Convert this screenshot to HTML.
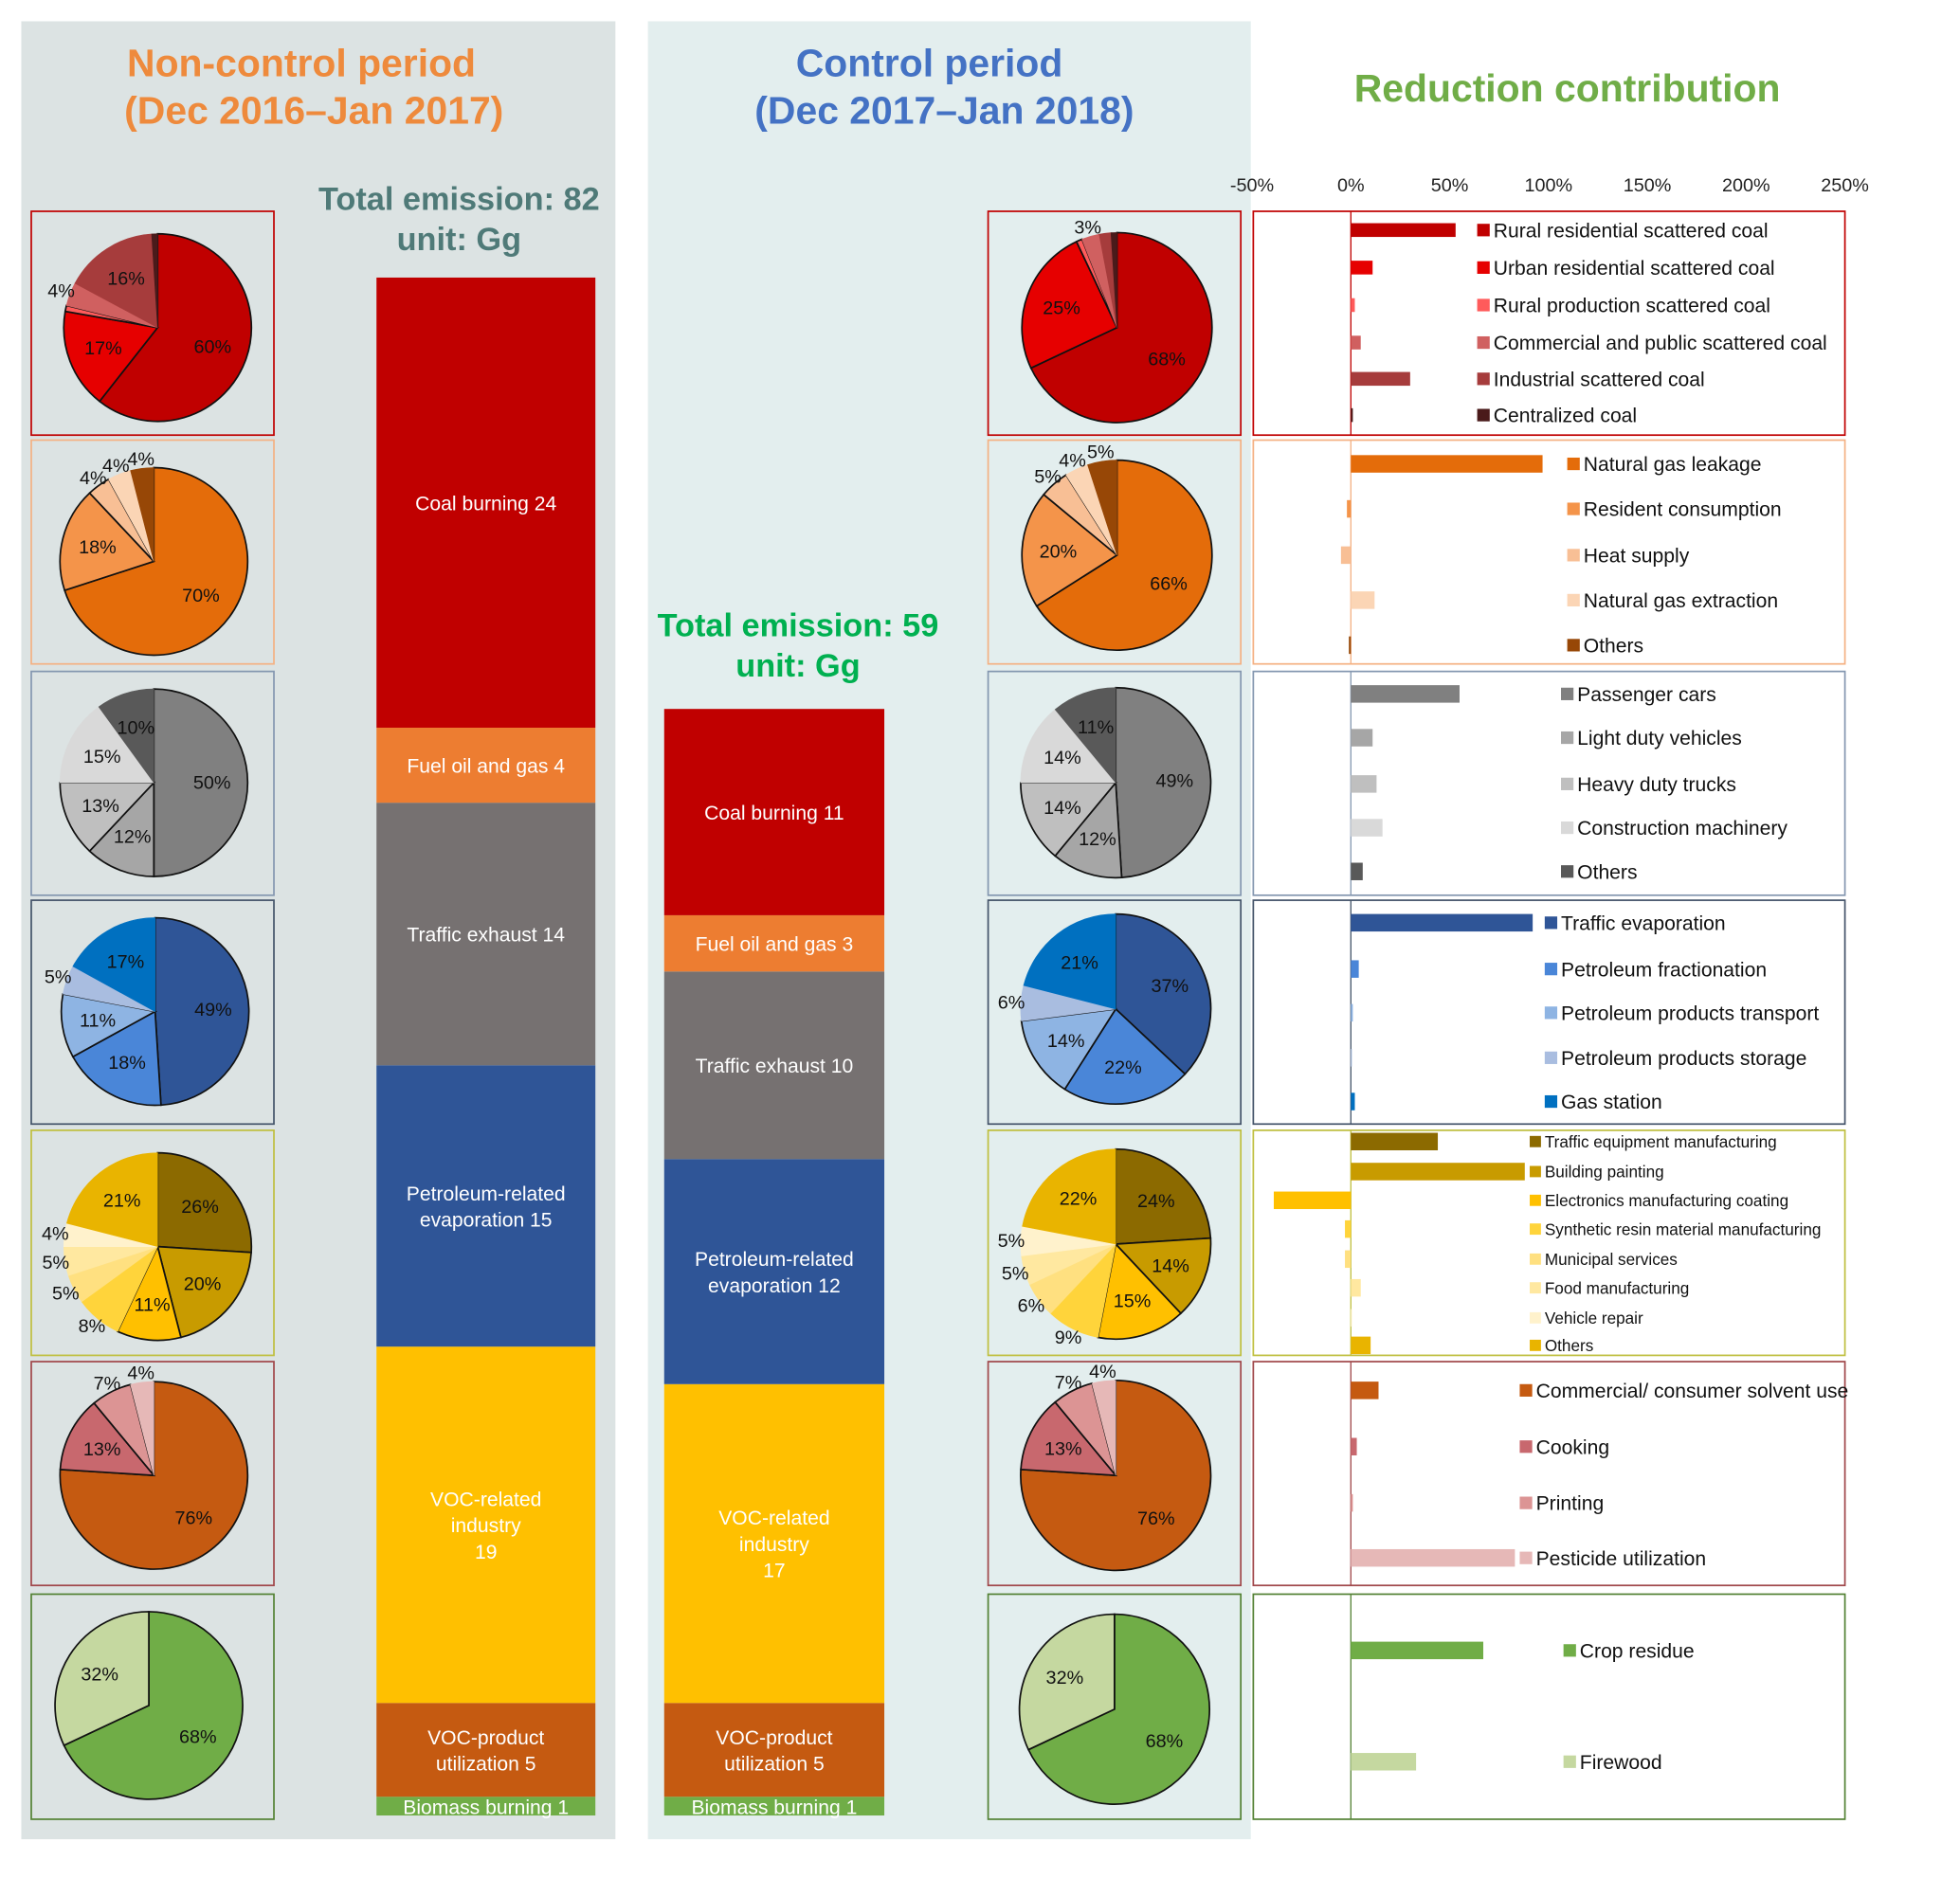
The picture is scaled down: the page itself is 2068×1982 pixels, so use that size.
<!DOCTYPE html>
<html><head><meta charset="utf-8">
<style>
html,body{margin:0;padding:0;background:#fff;width:2068px;height:1982px;overflow:hidden}
svg{display:block}
text{font-family:"Liberation Sans","DejaVu Sans",sans-serif}
</style></head>
<body>
<svg id="chart" width="2068" height="1982" viewBox="0 0 1567 1502" preserveAspectRatio="none" xmlns="http://www.w3.org/2000/svg">
<rect x="17" y="17" width="475" height="1454" fill="#dce3e3"/>
<rect x="518" y="17" width="482" height="1454" fill="#e3eeee"/>
<text x="241" y="61" text-anchor="middle" font-size="31" font-weight="bold" fill="#ee8a3c">Non-control period</text>
<text x="251" y="99" text-anchor="middle" font-size="31" font-weight="bold" fill="#ee8a3c">(Dec  2016–Jan  2017)</text>
<text x="743" y="61" text-anchor="middle" font-size="31" font-weight="bold" fill="#4472c4">Control period</text>
<text x="755" y="99" text-anchor="middle" font-size="31" font-weight="bold" fill="#4472c4">(Dec  2017–Jan  2018)</text>
<text x="1253" y="81" text-anchor="middle" font-size="31" font-weight="bold" fill="#70ad47">Reduction  contribution</text>
<text x="367" y="168" text-anchor="middle" font-size="26" font-weight="bold" fill="#4f7a78">Total emission: 82</text>
<text x="367" y="200" text-anchor="middle" font-size="26" font-weight="bold" fill="#4f7a78">unit: Gg</text>
<text x="638" y="509" text-anchor="middle" font-size="26" font-weight="bold" fill="#00b050">Total emission: 59</text>
<text x="638" y="541" text-anchor="middle" font-size="26" font-weight="bold" fill="#00b050">unit: Gg</text>
<g id="g"></g>
</svg>
<script>
const NS="http://www.w3.org/2000/svg";
const root=document.getElementById('g');
function mk(tag,attrs,parent){const e=document.createElementNS(NS,tag);for(const k in attrs)e.setAttribute(k,attrs[k]);(parent||root).appendChild(e);return e;}

// ---- stacked bar data ----
const stackCats=["Coal burning","Fuel oil and gas","Traffic exhaust","Petroleum-related evaporation","VOC-related industry","VOC-product utilization","Biomass burning"];
const stackNonControl=[24,4,14,15,19,5,1];
const stackControl=[11,3,10,12,17,5,1];
const stackColors=["#c00000","#ed7d31","#767171","#2f5597","#ffc000","#c55a11","#70ad47"];

// ---- pie data (non-control / control) ----
const pieCoalA=[60,17,1,4,16,1], pieCoalB=[68,25,1,3,2,1];
const pieFuelA=[70,18,4,4,4], pieFuelB=[66,20,5,4,5];
const pieTrafficA=[50,12,13,15,10], pieTrafficB=[49,12,14,14,11];
const piePetroA=[49,18,11,5,17], piePetroB=[37,22,14,6,21];
const pieVocIndA=[26,20,11,8,5,5,4,21], pieVocIndB=[24,14,15,9,6,5,5,22];
const pieVocProdA=[76,13,7,4], pieVocProdB=[76,13,7,4];
const pieBioA=[68,32], pieBioB=[68,32];

// ---- reduction contribution (%) ----
const catCoal=["Rural residential scattered coal","Urban residential scattered coal","Rural production scattered coal","Commercial and public scattered coal","Industrial scattered coal","Centralized coal"];
const redCoal=[53,11,2,5,30,1];
const catFuel=["Natural gas leakage","Resident consumption","Heat supply","Natural gas extraction","Others"];
const redFuel=[97,-2,-5,12,-1];
const catTraffic=["Passenger cars","Light duty vehicles","Heavy duty trucks","Construction machinery","Others"];
const redTraffic=[55,11,13,16,6];
const catPetro=["Traffic evaporation","Petroleum fractionation","Petroleum products transport","Petroleum products storage","Gas station"];
const redPetro=[92,4,1,0,2];
const catVocInd=["Traffic equipment manufacturing","Building painting","Electronics manufacturing coating","Synthetic resin material manufacturing","Municipal services","Food manufacturing","Vehicle repair","Others"];
const redVocInd=[44,88,-39,-3,-3,5,0,10];
const catVocProd=["Commercial/ consumer solvent use","Cooking","Printing","Pesticide utilization"];
const redVocProd=[14,3,1,83];
const catBio=["Crop residue","Firewood"];
const redBio=[67,33];
const axisTicks=[-50,0,50,100,150,200,250];

const groups=[
 {name:"coal",A:pieCoalA,B:pieCoalB,cats:catCoal,red:redCoal,border:"#c00000",y0:169,y1:348,cols:["#c00000","#e60000","#ff5b5b","#d06060","#a63c3c","#4a1a1a"],cA:[126,262],cB:[893,262],legX:1181,ys:[184,214,244,274,303,332],bh:11,fs:16},
 {name:"fuel",A:pieFuelA,B:pieFuelB,cats:catFuel,red:redFuel,border:"#f4b183",y0:352,y1:531,cols:["#e46c0a","#f4944a","#f8bf95","#fbd5b5","#974706"],cA:[123,449],cB:[893,444],legX:1253,ys:[371,407,444,480,516],bh:14,fs:16},
 {name:"traffic",A:pieTrafficA,B:pieTrafficB,cats:catTraffic,red:redTraffic,border:"#8497b0",y0:537,y1:716,cols:["#808080","#a6a6a6","#bfbfbf","#d9d9d9","#595959"],cA:[123,626],cB:[892,626],legX:1248,ys:[555,590,627,662,697],bh:14,fs:16},
 {name:"petroleum",A:piePetroA,B:piePetroB,cats:catPetro,red:redPetro,border:"#44546a",y0:720,y1:899,cols:["#2f5597","#4a86d8","#8eb4e3","#a9bde0","#0070c0"],cA:[124,809],cB:[892,807],legX:1235,ys:[738,775,810,846,881],bh:14,fs:16},
 {name:"voc-industry",A:pieVocIndA,B:pieVocIndB,cats:catVocInd,red:redVocInd,border:"#bfbf3f",y0:904,y1:1084,cols:["#8c6a00","#c89b00","#ffc000","#ffd43b","#ffe080","#ffe8a0","#fff2cc","#e9b400"],cA:[126,997],cB:[892,995],legX:1223,ys:[913,937,960,983,1007,1030,1054,1076],bh:14,fs:13},
 {name:"voc-product",A:pieVocProdA,B:pieVocProdB,cats:catVocProd,red:redVocProd,border:"#a0474a",y0:1089,y1:1268,cols:["#c55a11","#c8686e","#dc9494","#e6b8b7"],cA:[123,1180],cB:[892,1180],legX:1215,ys:[1112,1157,1202,1246],bh:14,fs:16},
 {name:"biomass",A:pieBioA,B:pieBioB,cats:catBio,red:redBio,border:"#548235",y0:1275,y1:1455,cols:["#70ad47","#c5d8a0"],cA:[119,1364],cB:[891,1367],legX:1250,ys:[1320,1409],bh:14,fs:16}
];

// stacked bars
const unitPx=15, barBottom=1452;
function stack(vals,x,w,which){
  let y=barBottom;
  for(let i=vals.length-1;i>=0;i--){
    const h=vals[i]*unitPx; y-=h;
    const r=mk('rect',{x:x,y:y,width:w,height:h,fill:stackColors[i]});
    
    
    const cx=x+w/2, cy=y+h/2;
    let lines;
    if(i===3) lines=["Petroleum-related","evaporation "+vals[i]];
    else if(i===4) lines=["VOC-related","industry",""+vals[i]];
    else if(i===5) lines=["VOC-product","utilization  "+vals[i]];
    else lines=[stackCats[i]+" "+vals[i]];
    const lh=21, start=(i===6)? y+h-1 : cy-(lines.length-1)*lh/2+6;
    lines.forEach((s,k)=>{const t=mk('text',{x:cx,y:start+k*lh,'text-anchor':'middle','font-size':16,fill:'#fff'});t.textContent=s;
      
      });
  }
}
stack(stackNonControl,301,175,'noncontrol');
stack(stackControl,531,176,'control');

// pies
function pie(vals,cols,c,r,name){
  const tot=vals.reduce((a,b)=>a+b,0);
  let a=-Math.PI/2;
  vals.forEach((v,i)=>{
    const da=v/tot*2*Math.PI, a2=a+da;
    const x1=c[0]+r*Math.cos(a),y1=c[1]+r*Math.sin(a),x2=c[0]+r*Math.cos(a2),y2=c[1]+r*Math.sin(a2);
    const p=mk('path',{d:`M${c[0]},${c[1]} L${x1},${y1} A${r},${r} 0 ${da>Math.PI?1:0} 1 ${x2},${y2} Z`,fill:cols[i],stroke:i<3?'#111':cols[i],'stroke-width':i<3?1.3:0.5});
    
    
    if(v>=3){
      const m=(a+a2)/2, rr=v>=10?r*0.62:r*1.1;
      const t=mk('text',{x:c[0]+rr*Math.cos(m),y:c[1]+rr*Math.sin(m)+5,'text-anchor':'middle','font-size':15,fill:'#111'});
      t.textContent=v+'%';
      
      
    }
    a=a2;
  });
}

// axis
const xZero=1080, pxPer=1.58;
function xs(v){return xZero+v*pxPer;}
axisTicks.forEach(v=>{const t=mk('text',{x:xs(v),y:153,'text-anchor':'middle','font-size':15,fill:'#222'});t.textContent=v+'%';
  
  });

groups.forEach(g=>{
  const bA=mk('rect',{x:25,y:g.y0,width:194,height:g.y1-g.y0,fill:'none',stroke:g.border,'stroke-width':1.3});
  
  
  const bB=mk('rect',{x:790,y:g.y0,width:202,height:g.y1-g.y0,fill:'none',stroke:g.border,'stroke-width':1.3});
  
  
  pie(g.A,g.cols,g.cA,75,'pie-noncontrol-'+g.name);
  pie(g.B,g.cols,g.cB,76,'pie-control-'+g.name);
  const bx=mk('rect',{x:1002,y:g.y0,width:473,height:g.y1-g.y0,fill:'#fff',stroke:g.border,'stroke-width':1.3});
  
  
  const zl=mk('line',{x1:xZero,x2:xZero,y1:g.y0,y2:g.y1,stroke:g.border,'stroke-width':1});
  
  
  g.red.forEach((v,i)=>{
    const x0=Math.min(xs(0),xs(v)), w=Math.max(Math.abs(xs(v)-xs(0)),0.8);
    const b=mk('rect',{x:x0,y:g.ys[i]-g.bh/2,width:w,height:g.bh,fill:g.cols[i]});
    
    
    const s=g.fs===13?9:10;
    const sq=mk('rect',{x:g.legX,y:g.ys[i]-s/2,width:s,height:s,fill:g.cols[i]});
    
    
    const t=mk('text',{x:g.legX+s+3,y:g.ys[i]+g.fs*0.36,'font-size':g.fs,fill:'#111'});
    t.textContent=g.cats[i];
    
    
  });
});
</script>
</body></html>
